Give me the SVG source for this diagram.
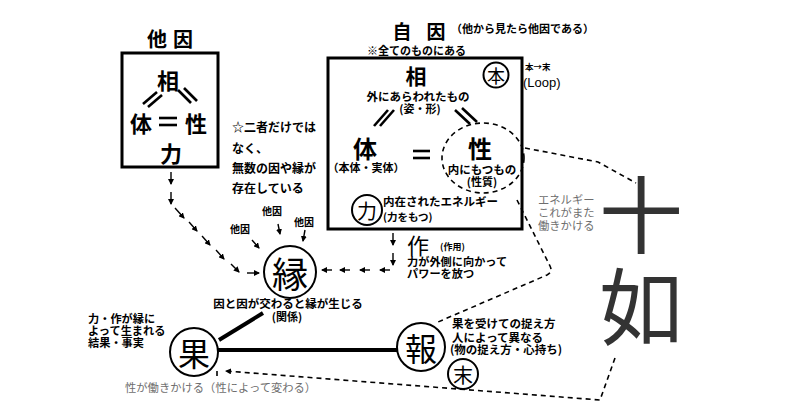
<svg xmlns="http://www.w3.org/2000/svg" width="800" height="419" viewBox="0 0 800 419">
<defs>
<style>
text{font-family:"Noto Sans CJK JP","Noto Sans CJK SC",sans-serif;fill:#000}
.b{font-weight:bold}
.s{font-size:11.5px;font-weight:bold}
.g{font-size:11.3px;fill:#6e6e6e}
.big{font-weight:bold}
.c{text-anchor:middle;dominant-baseline:central}
.m{text-anchor:middle}
.box{fill:none;stroke:#000;stroke-width:3}
.ring{fill:none;stroke:#000;stroke-width:2}
.thick{stroke:#000;stroke-width:4;fill:none}
.dash{stroke:#000;stroke-width:1.6;fill:none;stroke-dasharray:5 4}
.ar{stroke:#000;stroke-width:1.4;fill:none;marker-end:url(#ah)}
.eq{stroke:#000;stroke-width:2.6}
</style>
<marker id="ah" markerUnits="userSpaceOnUse" markerWidth="6" markerHeight="6" refX="5" refY="3" orient="auto">
<path d="M0,0 L6,3 L0,6 z" fill="#000"/>
</marker>
</defs>
<rect width="800" height="419" fill="#fff"/>

<g id="taiin">
<text x="173" y="47" class="m b" font-size="20" letter-spacing="6">他因</text>
<rect x="122" y="53" width="96" height="114" class="box"/>
<text x="168" y="79" class="c big" font-size="22">相</text>
<line x1="143" y1="104" x2="157" y2="92" class="eq" stroke-width="2"/>
<line x1="148" y1="107" x2="162" y2="95" class="eq" stroke-width="2"/>
<line x1="178" y1="90" x2="191" y2="103" class="eq" stroke-width="2"/>
<line x1="184" y1="88" x2="197" y2="101" class="eq" stroke-width="2"/>
<text x="141" y="122" class="c big" font-size="22">体</text>
<line x1="159" y1="118" x2="177" y2="118" class="eq"/>
<line x1="159" y1="125" x2="177" y2="125" class="eq"/>
<text x="196" y="122" class="c big" font-size="22">性</text>
<text x="171" y="152" class="c big" font-size="22">力</text>
</g>

<g id="jiin">
<text x="402" y="30" class="c b" font-size="19">自</text>
<text x="436" y="30" class="c b" font-size="19">因</text>
<text x="451" y="33" class="b" font-size="11">（他から見たら他因である）</text>
<text x="367" y="55" class="b" font-size="11">※全てのものにある</text>
<rect x="328" y="58" width="194" height="171" class="box"/>
<text x="416" y="75" class="c big" font-size="21">相</text>
<circle cx="496" cy="75" r="12.5" class="ring"/>
<text x="496" y="75" class="c" font-size="18">本</text>
<text x="418" y="101" class="m s">外にあらわれたもの</text>
<text x="420" y="113" class="m b" font-size="11">(姿・形)</text>
<line x1="374" y1="126" x2="388" y2="110" class="eq" stroke-width="2"/>
<line x1="380" y1="126" x2="394" y2="110" class="eq" stroke-width="2"/>
<line x1="455" y1="110" x2="470" y2="124" class="eq" stroke-width="2"/>
<line x1="462" y1="108" x2="477" y2="122" class="eq" stroke-width="2"/>
<text x="365" y="147" class="c big" font-size="24">体</text>
<text x="366" y="172" class="m b" font-size="11">（本体・実体）</text>
<line x1="413" y1="151" x2="430" y2="151" class="eq"/>
<line x1="413" y1="158" x2="430" y2="158" class="eq"/>
<text x="480" y="147" class="c big" font-size="24">性</text>
<text x="482" y="174" class="m s">内にもつもの</text>
<text x="482" y="186" class="m b" font-size="11">(性質)</text>
<circle cx="367" cy="210" r="15" class="ring"/>
<text x="367" y="210" class="c" font-size="20">力</text>
<text x="383" y="206" class="s">内在されたエネルギー</text>
<text x="383" y="221" class="b" font-size="10.5">(力をもつ)</text>
</g>

<g id="loop">
<text x="525" y="70" class="b" font-size="8.5">本→末</text>
<text x="523" y="87" font-size="13" style="font-family:'Liberation Sans',Arial,sans-serif">(Loop)</text>
</g>

<g id="note">
<text x="232" y="132" class="b" font-size="12">☆二者だけでは</text>
<text x="232" y="153" class="b" font-size="12">なく、</text>
<text x="232" y="173" class="b" font-size="12">無数の因や縁が</text>
<text x="232" y="193" class="b" font-size="12">存在している</text>
<text x="262" y="215" class="b" font-size="10">他因</text>
<text x="230" y="233" class="b" font-size="10">他因</text>
<text x="294" y="226" class="b" font-size="10">他因</text>
</g>

<g id="en">
<circle cx="290" cy="272" r="26" class="ring"/>
<text x="290" y="272" class="c" font-size="36">縁</text>
<text x="288" y="308" class="m s">因と因が交わると縁が生じる</text>
<text x="287" y="321" class="m b" font-size="11">(関係)</text>
</g>

<g id="sa">
<text x="418" y="244" class="c" font-size="22">作</text>
<text x="440" y="250" class="b" font-size="9">(作用)</text>
<text x="407" y="266" class="b" font-size="11.2">力が外側に向かって</text>
<text x="407" y="278" class="b" font-size="11.2">パワーを放つ</text>
</g>

<g id="ka">
<circle cx="194" cy="352" r="24" class="ring"/>
<text x="194" y="352" class="c" font-size="32">果</text>
<text x="88" y="323" class="b" font-size="11.2">力・作が縁に</text>
<text x="88" y="335" class="b" font-size="11.2">よって生まれる</text>
<text x="88" y="347" class="b" font-size="11.2">結果・事実</text>
</g>

<g id="ho">
<circle cx="421" cy="347" r="24" class="ring"/>
<text x="421" y="347" class="c" font-size="32">報</text>
<circle cx="463" cy="374" r="15" class="ring"/>
<text x="463" y="374" class="c" font-size="20">末</text>
<text x="452" y="328" class="s">果を受けての捉え方</text>
<text x="452" y="342" class="s">人によって異なる</text>
<text x="450" y="354" class="s">(物の捉え方・心持ち)</text>
</g>

<g id="energy">
<text x="538" y="204" class="g">エネルギー</text>
<text x="538" y="217" class="g">これがまた</text>
<text x="538" y="230" class="g">働きかける</text>
<text x="125" y="392" class="g">性が働きかける（性によって変わる）</text>
</g>

<g id="junyo">
<text x="641" y="210" class="c" font-size="84" style="fill:#333">十</text>
<text x="641" y="302" class="c" font-size="84" style="fill:#333">如</text>
</g>

<g id="connectors">
<line x1="219" y1="340" x2="263" y2="313" class="thick"/>
<line x1="218" y1="350" x2="397" y2="350" class="thick"/>
<line x1="171" y1="172" x2="171" y2="184" class="ar"/>
<line x1="171" y1="192" x2="171" y2="204" class="ar"/>
<line x1="175" y1="208" x2="184" y2="218" class="ar"/>
<line x1="189" y1="222" x2="197" y2="231" class="ar"/>
<line x1="202" y1="236" x2="210" y2="245" class="ar"/>
<line x1="216" y1="250" x2="224" y2="259" class="ar"/>
<line x1="231" y1="264" x2="239" y2="272" class="ar"/>
<line x1="247" y1="273" x2="259" y2="273" class="ar"/>
<line x1="278" y1="224" x2="280" y2="234" class="ar"/>
<line x1="305" y1="230" x2="303" y2="241" class="ar"/>
<line x1="252" y1="240" x2="259" y2="248" class="ar"/>
<line x1="393" y1="233" x2="393" y2="245" class="ar"/>
<line x1="393" y1="253" x2="393" y2="265" class="ar"/>
<line x1="390" y1="270" x2="380" y2="270" class="ar"/>
<line x1="370" y1="270" x2="360" y2="270" class="ar"/>
<line x1="350" y1="270" x2="340" y2="270" class="ar"/>
<line x1="332" y1="270" x2="322" y2="270" class="ar"/>
<ellipse cx="483" cy="158" rx="41" ry="35" class="dash"/>
<path d="M525,148 L598,162 L636,183" class="dash"/>
<path d="M517,200 L550,266 Q553,272 547,275 L438,322" class="dash"/>
<path d="M615,358 L600,400 L226,371" class="dash" marker-end="url(#ah)"/>
<line x1="217" y1="371" x2="217" y2="380" class="dash" stroke-dasharray="4 3"/>
</g>
</svg>
